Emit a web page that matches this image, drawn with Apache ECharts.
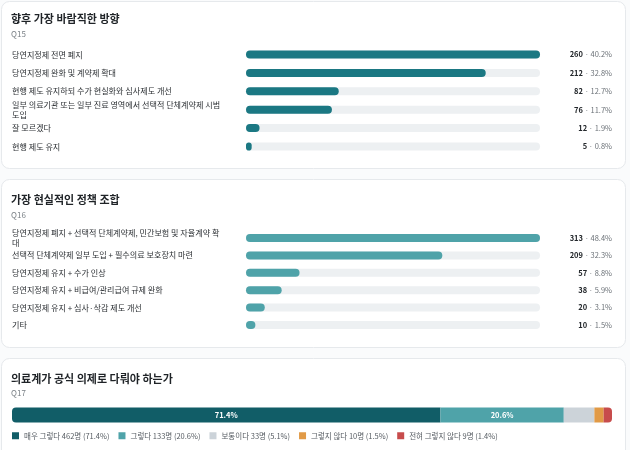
<!DOCTYPE html>
<html>
<head>
<meta charset="utf-8">
<script src="https://cdn.jsdelivr.net/npm/echarts@6/dist/echarts.min.js"></script>
<style>
  html, body { margin: 0; padding: 0; background: #fafbfc; }
  #main { width: 630px; height: 450px; }
</style>
</head>
<body>
<div id="main"></div>
<script>
// Q15 향후 가장 바람직한 방향
var q15Labels = [
    '당연지정제 전면 폐지',
    '당연지정제 완화 및 계약제 확대',
    '현행 제도 유지하되 수가 현실화와 심사제도 개선',
    '일부 의료기관 또는 일부 진료 영역에서 선택적 단체계약제 시범 도입',
    '잘 모르겠다',
    '현행 제도 유지'
];
var q15Counts = [260, 212, 82, 76, 12, 5];
var q15Pcts = [40.2, 32.8, 12.7, 11.7, 1.9, 0.8];

// Q16 가장 현실적인 정책 조합
var q16Labels = [
    '당연지정제 폐지 + 선택적 단체계약제, 민간보험 및 자율계약 확대',
    '선택적 단체계약제 일부 도입 + 필수의료 보호장치 마련',
    '당연지정제 유지 + 수가 인상',
    '당연지정제 유지 + 비급여/관리급여 규제 완화',
    '당연지정제 유지 + 심사·삭감 제도 개선',
    '기타'
];
var q16Counts = [313, 209, 57, 38, 20, 10];
var q16Pcts = [48.4, 32.3, 8.8, 5.9, 3.1, 1.5];

// Q17 의료계가 공식 의제로 다뤄야 하는가
var q17Names = ['매우 그렇다', '그렇다', '보통이다', '그렇지 않다', '전혀 그렇지 않다'];
var q17Counts = [462, 133, 33, 10, 9];
var q17Pcts = [71.4, 20.6, 5.1, 1.5, 1.4];
var q17Colors = ['#115d67', '#4fa3a9', '#ccd3d9', '#e19a46', '#c74c4c'];

var FONT = '"Noto Sans CJK KR", "Noto Sans", sans-serif';
var TRACK = '#edf0f2';

function sum(arr) {
    return arr.reduce(function (a, b) { return a + b; }, 0);
}

function catAxis(gridIndex, labels) {
    return {
        type: 'category',
        gridIndex: gridIndex,
        data: labels,
        inverse: true,
        axisLine: {show: false},
        axisTick: {show: false},
        axisLabel: {
            align: 'left',
            margin: 234,
            width: 229,
            overflow: 'break',
            fontSize: 8.1,
            lineHeight: 10,
            color: '#2b2f33',
            fontFamily: FONT
        }
    };
}

function barPair(axisIndex, counts, pcts, color) {
    var max = Math.max.apply(null, counts);
    return [
        {
            type: 'bar',
            xAxisIndex: axisIndex,
            yAxisIndex: axisIndex,
            data: counts.map(function () { return max; }),
            barWidth: 8,
            silent: true,
            itemStyle: {color: TRACK, borderRadius: 4},
            label: {
                show: true,
                position: ['100%', '50%'],
                offset: [72, 0],
                align: 'right',
                verticalAlign: 'middle',
                fontFamily: FONT,
                formatter: function (p) {
                    return '{n|' + counts[p.dataIndex] + '}{p| · ' + pcts[p.dataIndex].toFixed(1) + '%}';
                },
                rich: {
                    n: {fontSize: 7.5, fontWeight: 'bold', color: '#23272b', fontFamily: FONT},
                    p: {fontSize: 7.5, color: '#6b7177', fontFamily: FONT}
                }
            }
        },
        {
            type: 'bar',
            xAxisIndex: axisIndex,
            yAxisIndex: axisIndex,
            data: counts,
            barWidth: 8,
            barGap: '-100%',
            itemStyle: {color: color, borderRadius: 4}
        }
    ];
}

var q17Total = sum(q17Counts);
var q17Series = q17Names.map(function (name, i) {
    var radius = 0;
    if (i === 0) radius = [4, 0, 0, 4];
    if (i === q17Names.length - 1) radius = [0, 4, 4, 0];
    return {
        type: 'bar',
        name: name,
        stack: 'q17',
        xAxisIndex: 2,
        yAxisIndex: 2,
        barWidth: 15,
        data: [q17Counts[i]],
        itemStyle: {color: q17Colors[i], borderRadius: radius},
        label: {
            show: q17Pcts[i] > 10,
            position: 'inside',
            color: '#fff',
            fontSize: 7.5,
            fontWeight: 'bold',
            fontFamily: FONT,
            formatter: q17Pcts[i].toFixed(1) + '%'
        }
    };
});

var titleStyle = {fontSize: 11, fontWeight: 'bold', color: '#1f2327', fontFamily: FONT};
var subStyle = {fontSize: 8, color: '#7a8086', fontFamily: FONT};

function card(y, h) {
    return {
        type: 'rect',
        z: -10,
        shape: {x: 1.5, y: y, width: 624, height: h, r: 8},
        style: {fill: '#fff', stroke: '#e6e9ec', lineWidth: 1}
    };
}

var option = {
    animation: false,
    backgroundColor: '#fafbfc',
    graphic: [card(1.5, 167), card(179.5, 168), card(358.5, 110)],
    title: [
        {left: 6, top: 8.5, text: '향후 가장 바람직한 방향', subtext: 'Q15', itemGap: 5,
            textStyle: titleStyle, subtextStyle: subStyle},
        {left: 6, top: 189.5, text: '가장 현실적인 정책 조합', subtext: 'Q16', itemGap: 5,
            textStyle: titleStyle, subtextStyle: subStyle},
        {left: 6, top: 368, text: '의료계가 공식 의제로 다뤄야 하는가', subtext: 'Q17', itemGap: 5,
            textStyle: titleStyle, subtextStyle: subStyle}
    ],
    legend: {
        left: 7,
        top: 427,
        icon: 'rect',
        itemWidth: 7,
        itemHeight: 7,
        itemGap: 9,
        data: q17Names,
        selectedMode: false,
        textStyle: {fontSize: 7.5, color: '#555b61', fontFamily: FONT},
        formatter: function (name) {
            var i = q17Names.indexOf(name);
            return name + ' ' + q17Counts[i] + '명 (' + q17Pcts[i].toFixed(1) + '%)';
        }
    },
    grid: [
        {left: 246, right: 90, top: 45.3, height: 110.4},
        {left: 246, right: 90, top: 229.3, height: 104.4},
        {left: 12, right: 18, top: 407, height: 16}
    ],
    xAxis: [
        {type: 'value', gridIndex: 0, max: Math.max.apply(null, q15Counts), show: false},
        {type: 'value', gridIndex: 1, max: Math.max.apply(null, q16Counts), show: false},
        {type: 'value', gridIndex: 2, max: q17Total, show: false}
    ],
    yAxis: [
        catAxis(0, q15Labels),
        catAxis(1, q16Labels),
        {type: 'category', gridIndex: 2, data: ['Q17'], show: false}
    ],
    series: []
        .concat(barPair(0, q15Counts, q15Pcts, '#1b7883'))
        .concat(barPair(1, q16Counts, q16Pcts, '#4fa3a9'))
        .concat(q17Series)
};

var mychart = echarts.init(document.getElementById('main'));
mychart.setOption(option);
</script>
</body>
</html>
